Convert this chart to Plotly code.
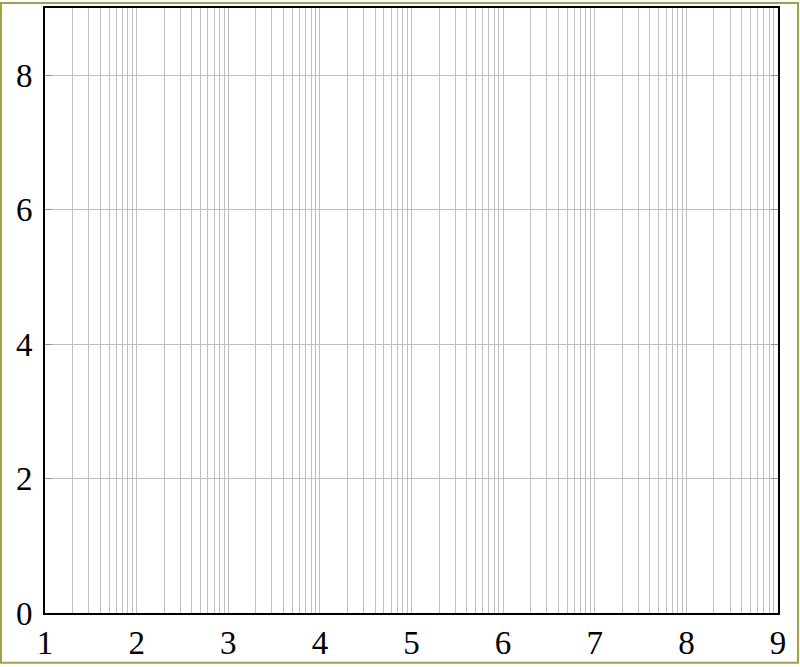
import plotly.graph_objects as go

# log x axis, decades labelled by exponent
x_decades = [1, 2, 3, 4, 5, 6, 7, 8, 9]
x_labels = [str(d) for d in x_decades]
y_ticks = [0, 2, 4, 6, 8]
y_range = [0, 9]

x_major = [10 ** d for d in x_decades]
x_minor = [k * 10 ** d for d in x_decades[:-1] for k in range(2, 10)]

grid = "#bfbfbf"
font = dict(family="Liberation Serif", size=33, color="black")

fig = go.Figure()
fig.add_trace(go.Scatter(x=[], y=[], mode="lines", showlegend=False))

fig.update_xaxes(
    type="log",
    range=[x_decades[0], x_decades[-1]],
    tickmode="array", tickvals=x_major, ticktext=x_labels,
    showgrid=True, gridcolor=grid, gridwidth=1.4,
    minor=dict(tickmode="array", tickvals=x_minor, showgrid=True,
               gridcolor=grid, gridwidth=1.4, ticks=""),
    ticks="", showline=True, linecolor="black", linewidth=1.6, mirror=True,
    zeroline=False, tickfont=font, ticklabelstandoff=0,
)
fig.update_yaxes(
    range=y_range,
    tickmode="array", tickvals=y_ticks,
    showgrid=True, gridcolor=grid, gridwidth=1.4,
    ticks="inside", ticklen=7, tickcolor="#909090", tickwidth=1.4,
    showline=True, linecolor="black", linewidth=1.6, mirror="ticks",
    zeroline=False, tickfont=font, ticklabelstandoff=4,
)

fig.update_layout(
    width=800, height=667,
    margin=dict(l=45, r=22, t=6, b=54),
    paper_bgcolor="white", plot_bgcolor="white",
    shapes=[dict(type="rect", xref="paper", yref="paper",
                 x0=-44 / 733, x1=1 + 20 / 733, y0=-50 / 607, y1=1 + 5 / 607,
                 line=dict(color="#a3a04a", width=2))],
)

fig.write_html("out.html", config={"displayModeBar": False},
               post_script="document.body.style.margin='0';")
